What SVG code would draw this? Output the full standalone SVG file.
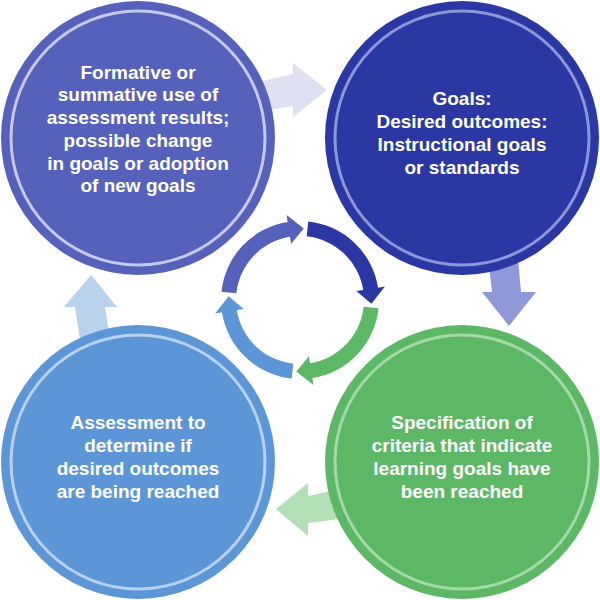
<svg xmlns="http://www.w3.org/2000/svg" width="600" height="600" viewBox="0 0 600 600">
  <style>
    .lbl { font-family: "Liberation Sans", Arial, sans-serif; font-weight: bold; font-size: 19px; fill: #ffffff; text-anchor: middle; }
    .ring { fill: none; stroke-width: 3; }
  </style>
  <rect width="600" height="600" fill="#ffffff"/>
  <g id="connectors">
    <polygon id="arrow-top" points="262,81 293,74 293,63 327,90 293,117 293,106 262,111" fill="#dfe1f3"/>
    <polygon id="arrow-right" points="488,258 518,258 521,292 536,292 509,326 482,292 492,292" fill="#8f99da"/>
    <polygon id="arrow-bottom" points="340,489 308,496 308,483 276,509 308,536 308,523 340,519" fill="#b3dfb6"/>
    <polygon id="arrow-left" points="80,340 75,307 64,307 91,275 117,307 105,307 110,340" fill="#b9d3ee"/>
  </g>
  <g id="node-feedback">
    <circle cx="138" cy="138" r="137" fill="#5561ba"/>
    <circle class="ring" cx="138" cy="138" r="127" stroke="#c5c9ea"/>
    <text class="lbl" x="138" y="79">Formative or</text>
    <text class="lbl" x="138" y="101">summative use of</text>
    <text class="lbl" x="138" y="124">assessment results;</text>
    <text class="lbl" x="138" y="147">possible change</text>
    <text class="lbl" x="138" y="170">in goals or adoption</text>
    <text class="lbl" x="138" y="192">of new goals</text>
  </g>
  <g id="node-goals">
    <circle cx="462" cy="138" r="137" fill="#2b37a3"/>
    <circle class="ring" cx="462" cy="138" r="127" stroke="#8d96d6"/>
    <text class="lbl" x="462" y="105">Goals:</text>
    <text class="lbl" x="462" y="128">Desired outcomes:</text>
    <text class="lbl" x="462" y="151">Instructional goals</text>
    <text class="lbl" x="462" y="174">or standards</text>
  </g>
  <g id="node-criteria">
    <circle cx="462" cy="462" r="137" fill="#5cb864"/>
    <circle class="ring" cx="462" cy="462" r="127" stroke="#a6d9aa"/>
    <text class="lbl" x="462" y="429">Specification of</text>
    <text class="lbl" x="462" y="452">criteria that indicate</text>
    <text class="lbl" x="462" y="475">learning goals have</text>
    <text class="lbl" x="462" y="498">been reached</text>
  </g>
  <g id="node-assessment">
    <circle cx="138" cy="462" r="137" fill="#5c96d7"/>
    <circle class="ring" cx="138" cy="462" r="127" stroke="#b8d1f0"/>
    <text class="lbl" x="138" y="429">Assessment to</text>
    <text class="lbl" x="138" y="452">determine if</text>
    <text class="lbl" x="138" y="475">desired outcomes</text>
    <text class="lbl" x="138" y="498">are being reached</text>
  </g>
  <g id="cycle">
    <path d="M221.43,291.74 A79,79 0 0 1 287.64,221.97 L286.55,215.06 L303.74,228.60 L291.08,243.70 L289.99,236.79 A64,64 0 0 0 236.35,293.31 Z" fill="#5561ba"/>
    <path d="M221.43,291.74 A79,79 0 0 1 287.64,221.97 L286.55,215.06 L303.74,228.60 L291.08,243.70 L289.99,236.79 A64,64 0 0 0 236.35,293.31 Z" fill="#2b37a3" transform="rotate(90 300 300)"/>
    <path d="M221.43,291.74 A79,79 0 0 1 287.64,221.97 L286.55,215.06 L303.74,228.60 L291.08,243.70 L289.99,236.79 A64,64 0 0 0 236.35,293.31 Z" fill="#5cb864" transform="rotate(180 300 300)"/>
    <path d="M221.43,291.74 A79,79 0 0 1 287.64,221.97 L286.55,215.06 L303.74,228.60 L291.08,243.70 L289.99,236.79 A64,64 0 0 0 236.35,293.31 Z" fill="#5c96d7" transform="rotate(270 300 300)"/>
  </g>
</svg>
